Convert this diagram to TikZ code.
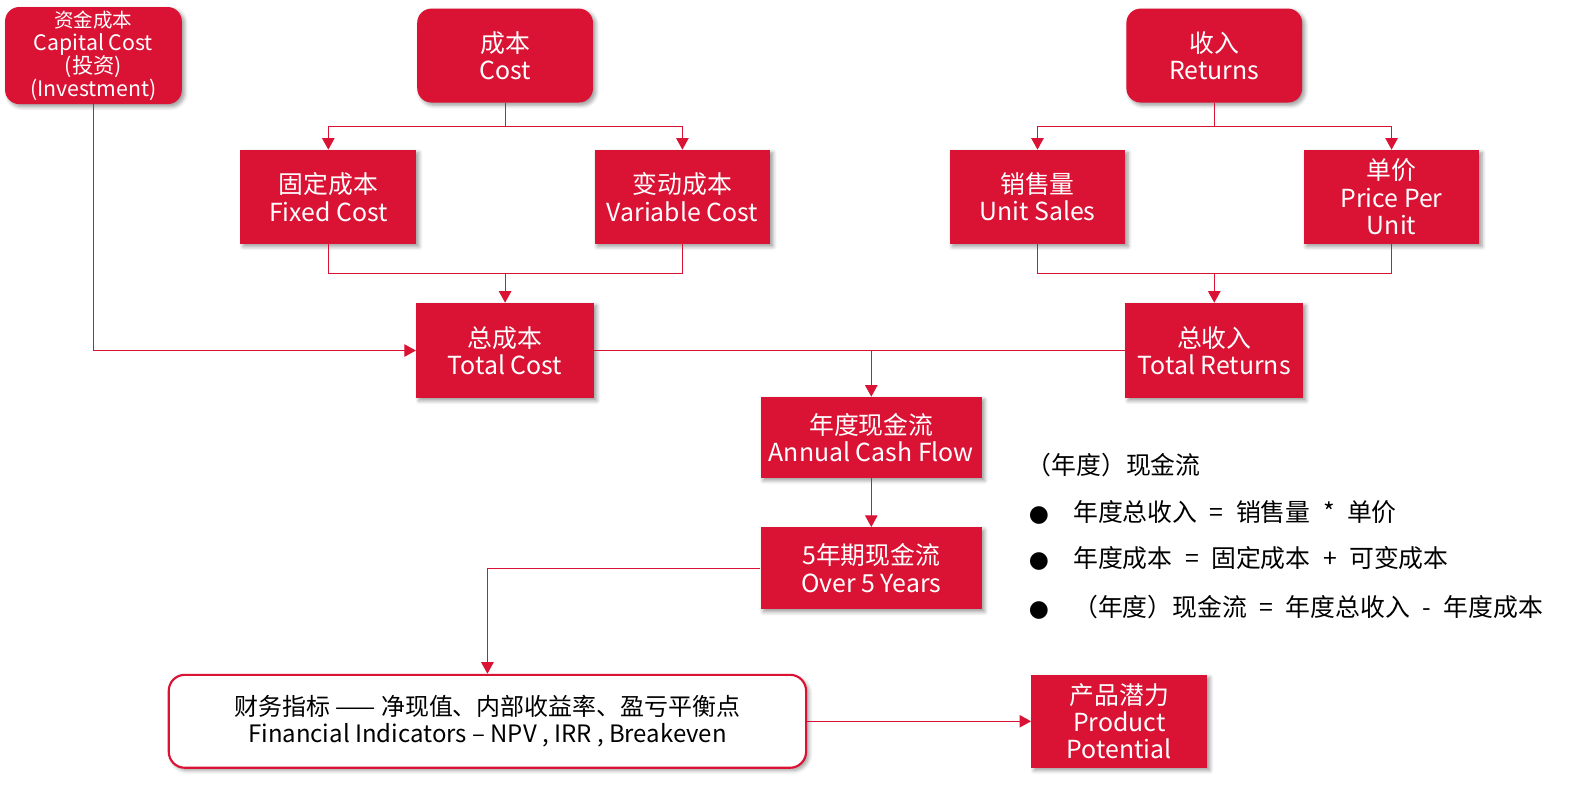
\documentclass[tikz,border=0pt]{standalone}
\usepackage{fontspec}
\setmainfont{Noto Sans CJK SC}
\newfontfamily\symfont{DejaVu Sans}
\usepackage{xcolor}
\definecolor{flowred}{RGB}{218,18,52}
\usepackage{tikz}
\usetikzlibrary{positioning,shadows.blur,arrows.meta,calc}

\begin{document}
\begin{tikzpicture}[
  x=0.02cm, y=-0.02cm,
  redbox/.style={
    fill=flowred,
    text=white,
    minimum width=3.48cm,
    minimum height=1.86cm,
    inner sep=2pt,
    align=center,
    font=\fontsize{14}{15.4}\selectfont,
    blur shadow={shadow blur steps=5, shadow xshift=1.5pt,
                 shadow yshift=-1.5pt, shadow opacity=40}
  },
  roundbox/.style={redbox, rounded corners=8pt},
  wire/.style={draw=flowred, line width=0.6pt},
  flow/.style={wire, -{Triangle[width=7pt,length=6.5pt]}},
  formula/.style={anchor=west, inner sep=0pt, font=\fontsize{14}{16}\selectfont}
]
  \useasboundingbox (0,0) rectangle (1568,783);

  % Boîtes du haut : investissement, coût, recettes
  \node[roundbox, minimum width=3.5cm, font=\fontsize{12}{13}\selectfont]
    (capital) at (92.5,55) {{\fontsize{11}{13}\selectfont 资金成本}\\Capital Cost\\(投资)\\(Investment)};
  \node[roundbox] (cost) at (500,55) {成本\\Cost};
  \node[roundbox] (returns) at (1202,55) {收入\\Returns};

  % Deuxième rangée
  \node[redbox] (fixed) at (325,195) {固定成本\\Fixed Cost};
  \node[redbox] (variable) at (675.5,195) {变动成本\\Variable Cost};
  \node[redbox] (sales) at (1027,195) {销售量\\Unit Sales};
  \node[redbox] (price) at (1377.5,195) {单价\\Price Per\\Unit};

  % Totaux
  \node[redbox, minimum width=3.52cm, minimum height=1.88cm]
    (totcost) at (500,347) {总成本\\Total Cost};
  \node[redbox, minimum width=3.52cm, minimum height=1.88cm]
    (totret) at (1202,347) {总收入\\Total Returns};

  % Flux de trésorerie
  \node[redbox, minimum width=4.38cm, minimum height=1.6cm]
    (cashflow) at (862.5,433) {年度现金流\\Annual Cash Flow};
  \node[redbox, minimum width=4.38cm, minimum height=1.62cm]
    (fiveyr) at (862.5,562.5) {5年期现金流\\Over 5 Years};

  % Indicateurs financiers et potentiel
  \node[
    draw=flowred,
    line width=1.2pt,
    fill=white,
    rounded corners=9pt,
    minimum width=12.62cm,
    minimum height=1.84cm,
    align=center,
    font=\fontsize{13.5}{15.4}\selectfont,
    blur shadow={shadow blur steps=5, shadow xshift=1.5pt,
                 shadow yshift=-1.5pt, shadow opacity=40}
  ] (indic) at (482.5,714)
    {财务指标 —— 净现值、内部收益率、盈亏平衡点\\Financial Indicators – NPV , IRR , Breakeven};
  \node[redbox, minimum height=1.84cm] (potential) at (1108,714)
    {产品潜力\\Product\\Potential};

  % Connexions : coût
  \draw[wire] (cost.south) -- ++(0,23) coordinate (costfork);
  \draw[flow] (costfork) -| (fixed.north);
  \draw[flow] (costfork) -| (variable.north);
  \draw[wire] (fixed.south) -- ++(0,29) coordinate (costjoin) -| (variable.south);
  \draw[flow] (totcost.north |- costjoin) -- (totcost.north);

  % Connexions : recettes
  \draw[wire] (returns.south) -- ++(0,23) coordinate (retfork);
  \draw[flow] (retfork) -| (sales.north);
  \draw[flow] (retfork) -| (price.north);
  \draw[wire] (sales.south) -- ++(0,29) coordinate (retjoin) -| (price.south);
  \draw[flow] (totret.north |- retjoin) -- (totret.north);

  % Connexions vers le flux annuel
  \draw[flow] (capital.south) |- (totcost.west);
  \draw[wire] (totcost.east) -- (totret.west);
  \draw[flow] (cashflow.north |- totcost.east) -- (cashflow.north);
  \draw[flow] (cashflow) -- (fiveyr);
  \draw[flow] (fiveyr.west) -| (indic.north);
  \draw[flow] (indic) -- (potential);

  % Formules à droite
  \node[formula] (cfhead) at (1016,460) {（年度）现金流};
  \node[formula] (eqret) at (1018,507)
    {\makebox[0.88cm][l]{\fontsize{13}{15}\symfont ●}年度总收入\enspace{}=\enspace{}销售量\enspace{}*\enspace{}单价};
  \node[formula] (eqcost) at (1018,553)
    {\makebox[0.88cm][l]{\fontsize{13}{15}\symfont ●}年度成本\enspace{}=\enspace{}固定成本\enspace{}+\enspace{}可变成本};
  \node[formula] (eqflow) at (1018,601)
    {\makebox[0.88cm][l]{\fontsize{13}{15}\symfont ●}（年度）现金流\enspace{}=\enspace{}年度总收入\enspace{}-\enspace{}年度成本};
\end{tikzpicture}
\end{document}
